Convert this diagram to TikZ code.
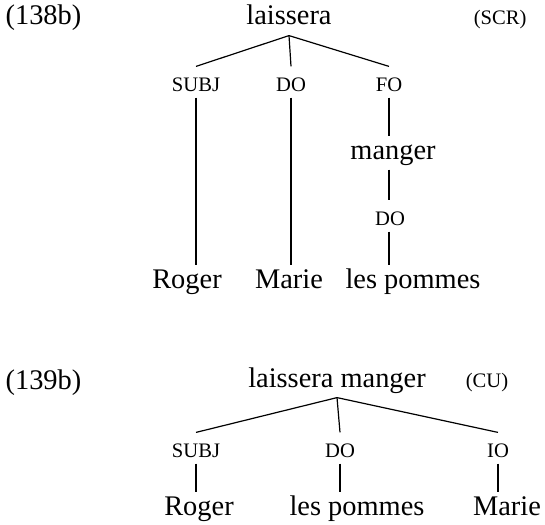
\documentclass[tikz,border=0pt]{standalone}
\usepackage{fontspec}
\setmainfont{Liberation Serif}
\usepackage{tikz}
\newcommand{\smcap}[1]{{\fontsize{10.3}{12}\selectfont #1}}

\begin{document}
\begin{tikzpicture}[x=0.5pt,y=-0.5pt,line width=0.6pt,
  every node/.style={font=\fontsize{14.2}{17}\selectfont,inner sep=0pt,anchor=base},
  word/.style={text height=11pt,text depth=5pt},
  rel/.style={text height=12pt,text depth=3pt}]
 \useasboundingbox (0,0) rectangle (545,524);
  % Upper tree (138b)
 \node[anchor=base west] (ex1) at (5,25) {(138b)};
 \node[word] (root1) at (289,25) {laissera};
 \node[anchor=base east] (scr) at (527,25) {\smcap{(SCR)}};
 \node[rel] (subj1) at (196,91) {\smcap{SUBJ}};
 \node[rel] (do1) at (291,91) {\smcap{DO}};
 \node[rel] (fo1) at (389,91) {\smcap{FO}};
 \node[word] (manger1) at (393,159) {manger};
 \node[rel] (dob1) at (390,225) {\smcap{DO}};
 \node[word] (roger1) at (187,288) {Roger};
 \node[word] (marie1) at (289,288) {Marie};
 \node[word] (pommes1) at (413,288) {les pommes};
 \foreach \c in {subj1,do1,fo1} { \draw (root1.south) -- (\c.north); }
 \draw (subj1.south) -- (subj1.south |- roger1.north);
 \draw (do1.south) -- (do1.south |- marie1.north);
 \draw (fo1.south) -- (fo1.south |- manger1.north);
 \draw (fo1.south |- manger1.south) -- (fo1.south |- dob1.north);
 \draw (fo1.south |- dob1.south) -- (fo1.south |- pommes1.north);
  % Lower tree (139b)
 \node[anchor=base west] (ex2) at (5,389) {(139b)};
 \node[word] (root2) at (337,387) {laissera manger};
 \node (cu) at (487,387) {\smcap{(CU)}};
 \node[rel] (subj2) at (196,457) {\smcap{SUBJ}};
 \node[rel] (do2) at (340,457) {\smcap{DO}};
 \node[rel] (io2) at (498,457) {\smcap{IO}};
 \node[word] (roger2) at (199,515) {Roger};
 \node[word] (pommes2) at (357,515) {les pommes};
 \node[word] (marie2) at (507,515) {Marie};
 \foreach \c in {subj2,do2,io2} { \draw (root2.south) -- (\c.north); }
 \draw (subj2.south) -- (subj2.south |- roger2.north);
 \draw (do2.south) -- (do2.south |- pommes2.north);
 \draw (io2.south) -- (io2.south |- marie2.north);
\end{tikzpicture}
\end{document}
